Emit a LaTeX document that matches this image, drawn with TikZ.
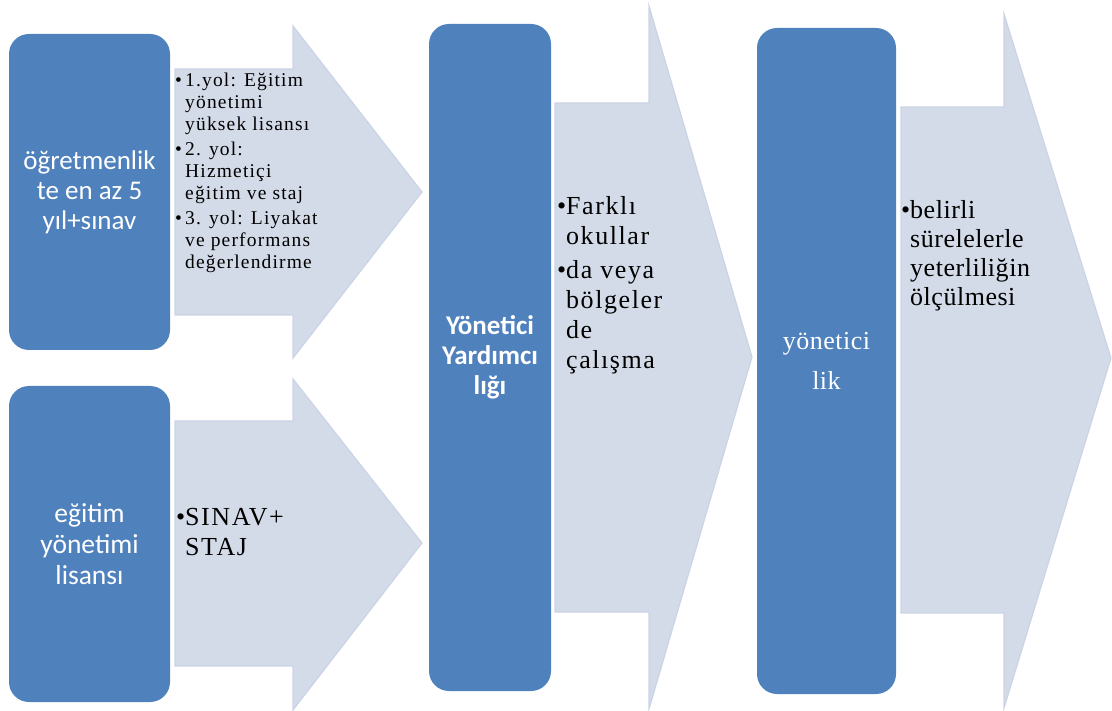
\documentclass[tikz,border=0pt]{standalone}
\usepackage{fontspec}
\setmainfont{Liberation Serif}
\newfontfamily\boxfont{Carlito}
\newfontfamily\spacedserif[LetterSpace=6]{Liberation Serif}
\newfontfamily\lightspacedserif[LetterSpace=2]{Liberation Serif}
\begin{document}
\begin{tikzpicture}[x=1pt,y=-1pt,
  stagebox/.style={fill=boxblue,draw=none,rounded corners=20pt,inner sep=0pt,text=white,align=center},
  arrowshape/.style={fill=arrowfill,draw=arrowedge,line width=1.2pt,line join=miter},
  bulletnote/.style={anchor=north west,inner sep=0pt,align=left,text=black}
]
\definecolor{boxblue}{HTML}{4F81BD}
\definecolor{arrowfill}{HTML}{D4DBE8}
\definecolor{arrowedge}{HTML}{CBD4E6}
\useasboundingbox (0,0) rectangle (1112,711);

% arrows (drawn first)
\draw[arrowshape] (175,69) -- (293,69) -- (293,26) -- (422,192) -- (293,358) -- (293,315) -- (175,315) -- cycle;
\draw[arrowshape] (175,421) -- (293,421) -- (293,379) -- (422,543) -- (293,710) -- (293,666) -- (175,666) -- cycle;
\draw[arrowshape] (555,103) -- (649,103) -- (649,6) -- (752,357) -- (649,709) -- (649,612) -- (555,612) -- cycle;
\draw[arrowshape] (901,107) -- (1004,107) -- (1004,14) -- (1111,358) -- (1004,708) -- (1004,613) -- (901,613) -- cycle;

% stage boxes
\node[stagebox,minimum width=161pt,minimum height=316pt,font=\boxfont\fontsize{27}{30}\selectfont] (b1) at (89.5,192) {öğretmenlik\\te en az 5\\yıl+sınav};
\node[stagebox,minimum width=161pt,minimum height=316pt,font=\boxfont\fontsize{27.5}{31}\selectfont] (b2) at (89.5,544) {eğitim\\yönetimi\\lisansı};
\node[stagebox,minimum width=122pt,minimum height=667pt,font=\boxfont\bfseries\fontsize{27}{30}\selectfont] (b3) at (490,357.5) {Yönetici\\Yardımcı\\lığı};
\node[stagebox,minimum width=139pt,minimum height=666pt,font=\lightspacedserif\fontsize{26}{40}\selectfont] (b4) at (826.5,361) {yönetici\\lik};

% bullet notes
\node[bulletnote,font=\spacedserif\fontsize{19.5}{22}\selectfont] (n1) at (185,73) {\llap{\textbullet\,}1.yol: Eğitim\\yönetimi\\yüksek lisansı\\[3pt]\llap{\textbullet\,}2. yol:\\Hizmetiçi\\eğitim ve staj\\[3pt]\llap{\textbullet\,}3. yol: Liyakat\\ve performans\\değerlendirme};
\node[bulletnote,font=\spacedserif\fontsize{26}{30}\selectfont] (n2) at (185,508) {\llap{\textbullet}SINAV+\\STAJ};
\node[bulletnote,font=\spacedserif\fontsize{26}{30}\selectfont] (n3) at (566,196) {\llap{\textbullet}Farklı\\okullar\\[4pt]\llap{\textbullet}da veya\\bölgeler\\de\\çalışma};
\node[bulletnote,font=\lightspacedserif\fontsize{26}{29}\selectfont] (n4) at (910,200) {\llap{\textbullet}belirli\\sürelelerle\\yeterliliğin\\ölçülmesi};
\end{tikzpicture}
\end{document}
